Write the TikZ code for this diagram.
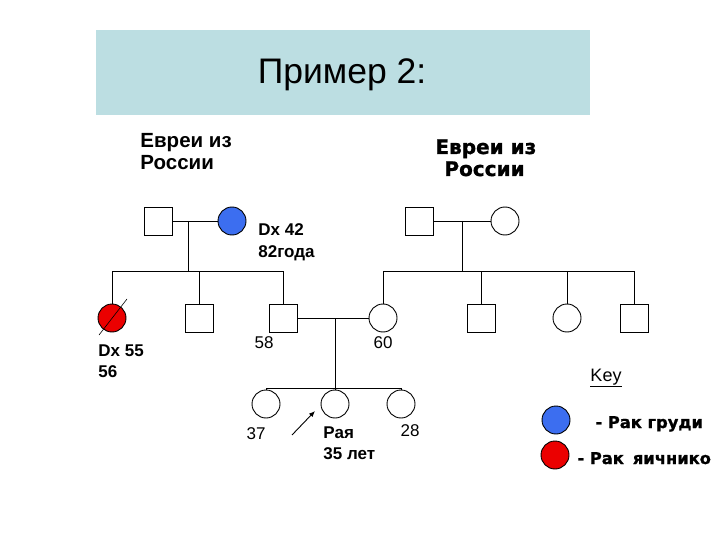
\documentclass[tikz,border=0pt]{standalone}
\usepackage{fontspec}
\usetikzlibrary{arrows.meta}
\setmainfont{Liberation Sans}
\newfontfamily\heavyfont{DejaVu Sans}[BoldFeatures={FakeBold=1.2}]
\definecolor{titlebg}{RGB}{188,222,226}
\definecolor{bcblue}{RGB}{60,110,240}
\definecolor{ocred}{RGB}{235,0,0}
\begin{document}
\begin{tikzpicture}[x=1pt,y=-1pt,line width=0.9pt,
  male/.style={draw,rectangle,minimum size=28pt,inner sep=0pt},
  fem/.style={draw,circle,minimum size=28pt,inner sep=0pt},
  boldlbl/.style={font=\fontsize{17}{21}\selectfont\bfseries,align=left,anchor=base west,inner sep=0pt},
  grp/.style={font=\fontsize{20.5}{22}\selectfont\bfseries,align=left,anchor=base west,inner sep=0pt},
  num/.style={font=\fontsize{17}{20}\selectfont,inner sep=0pt},
  keytxt/.style={font=\heavyfont\fontsize{16.3}{20}\selectfont\bfseries,anchor=base west,inner sep=0pt}]
\useasboundingbox (0,0) rectangle (720,540);
% title
\fill[titlebg] (96,30) rectangle (590,115);
\node[inner sep=0pt] (title) at (342,75) {\fontsize{35.5}{40}\selectfont Пример 2:};
% group labels (anchor = baseline of last line)
\node[grp] (grpL) at (140,170) {Евреи из\\России};
\node[grp,font=\heavyfont\fontsize{20}{22}\selectfont\bfseries] (grpR) at (435,176) {Евреи из\\\hspace*{9pt}России};
% generation I
\node[male] (gL1) at (158,221) {};
\node[fem,fill=bcblue] (gL2) at (232,221) {};
\node[male] (gR1) at (419,221) {};
\node[fem] (gR2) at (505,221) {};
\node[boldlbl] (dx42) at (258,257) {Dx 42\\82года};
\draw (gL1.east) -- (gL2.west);
\draw (gR1.east) -- (gR2.west);
\coordinate (dL) at (188,221);
\coordinate (dR) at (462,221);
\coordinate (sL) at (188,271);
\coordinate (sR) at (462,271);
\draw (dL) -- (sL);
\draw (dR) -- (sR);
% generation II
\node[fem,fill=ocred] (c1) at (112,318) {};
\node[male] (c2) at (199,318) {};
\node[male] (c3) at (283,318) {};
\node[fem] (c4) at (383,318) {};
\node[male] (c5) at (481,318) {};
\node[fem] (c6) at (567,318) {};
\node[male] (c7) at (634,318) {};
\draw (c1 |- sL) -- (c3 |- sL);
\draw (c4 |- sR) -- (c7 |- sR);
\foreach \c in {c1,c2,c3} \draw (\c |- sL) -- (\c.north);
\foreach \c in {c4,c5,c6,c7} \draw (\c |- sR) -- (\c.north);
\draw[line width=0.6pt] ([shift={(-13,17)}]c1.center) -- ([shift={(15,-19)}]c1.center);
\node[boldlbl] (dx55) at (98,377) {Dx 55\\56};
\node[num] (n58) at (264,343) {58};
\node[num] (n60) at (383,343) {60};
% generation III
\draw (c3.east) -- (c4.west);
\coordinate (dM) at (335,318);
\coordinate (sM) at (335,388);
\draw (dM) -- (sM);
\node[fem] (k1) at (266,404) {};
\node[fem] (k2) at (335,404) {};
\node[fem] (k3) at (401,404) {};
\draw (k1 |- sM) -- (k3 |- sM);
\foreach \c in {k1,k2,k3} \draw (\c |- sM) -- (\c.north);
\node[num] (n37) at (256,434) {37};
\node[num] (n28) at (410,431) {28};
\node[boldlbl] (raya) at (323,459) {Рая\\35 лет};
\coordinate (arS) at (292,435);
\coordinate (arE) at (315,411);
\draw[-{Latex[length=6pt,width=5pt]},line width=0.9pt] (arS) -- (arE);
% key
\node[num,font=\fontsize{18}{20}\selectfont] (key) at (606,378) {\underline{Key}};
\node[fem,fill=bcblue] (kb) at (556,420) {};
\node[fem,fill=ocred] (kr) at (555,455) {};
\node[keytxt] (kbt) at (595,428) {- Рак груди};
\node[keytxt] (krt) at (577,464) {- Рак\hspace{9pt}яичнико};
\end{tikzpicture}
\end{document}
